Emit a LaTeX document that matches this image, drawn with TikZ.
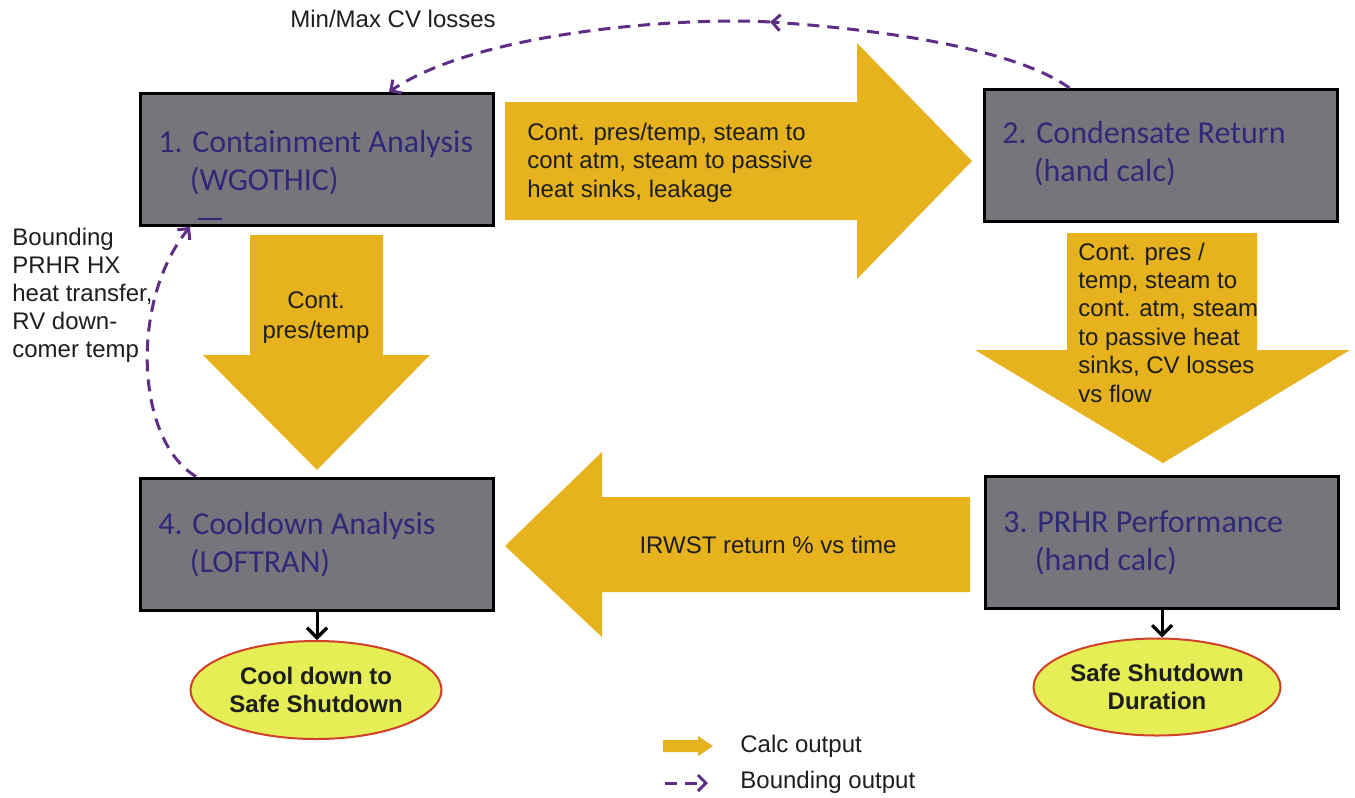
\documentclass[tikz,border=0pt]{standalone}
\usepackage{fontspec}
\setmainfont{Liberation Sans}
\newfontfamily\calib{Carlito}
\usetikzlibrary{arrows.meta,calc,shapes.geometric}
\definecolor{boxgray}{HTML}{78747B}
\definecolor{boxtxt}{HTML}{2E2A78}
\definecolor{gold}{HTML}{E6B21E}
\definecolor{purp}{HTML}{5E2D86}
\definecolor{ellfill}{HTML}{E6EE55}
\definecolor{ellline}{HTML}{D0402A}
\definecolor{ink}{HTML}{1E1E1E}
\tikzset{
 box/.style={draw=black, line width=1.5pt, fill=boxgray, minimum width=176.5pt, minimum height=66pt, inner sep=0pt},
 boxtext/.style={font=\calib\fontsize{16}{19}\selectfont, text=boxtxt, align=left, inner sep=0pt, anchor=base west},
 lbl/.style={font=\fontsize{12}{14.2}\selectfont, text=ink, inner sep=0pt},
 calcarrow/.style={fill=gold},
 bound/.style={draw=purp, line width=1.5pt, dash pattern=on 6pt off 4pt, -{Straight Barb[length=4pt,width=8pt,line width=1.5pt]}},
 goal/.style={ellipse, draw=ellline, line width=1pt, fill=ellfill, inner sep=0pt, text=ink, font=\bfseries\fontsize{12}{14}\selectfont, align=center},
 outarrow/.style={draw=black, line width=1.5pt, -{Straight Barb[length=5pt,width=10pt,line width=1.6pt]}},
}
\begin{document}
\begin{tikzpicture}[x=0.5pt,y=-0.5pt]
\useasboundingbox[fill=white] (0,0) rectangle (1355,798);

% calc-output arrows
\fill[calcarrow] (505,102) -- (857,102) -- (857,43) -- (972,161) -- (857,279) -- (857,220) -- (505,220) -- cycle;
\fill[calcarrow] (250,235) -- (383,235) -- (383,355) -- (430,355) -- (317,470) -- (203,355) -- (250,355) -- cycle;
\fill[calcarrow] (1067,233) -- (1257,233) -- (1257,350) -- (1350,350) -- (1163,463) -- (975,350) -- (1067,350) -- cycle;
\fill[calcarrow] (970,497) -- (602,497) -- (602,452) -- (505,546) -- (602,637) -- (602,592) -- (970,592) -- cycle;

% boxes
\node[box] (b1) at (317,159.5) {};
\node[box] (b2) at (1160.5,155.5) {};
\node[box] (b3) at (1162,542.5) {};
\node[box] (b4) at (317,544) {};

% (multi-line nodes: base anchor = baseline of last line)
\node[boxtext] (b1t) at (158,190) {1. Containment Analysis\\\hphantom{1.\ }(WGOTHIC)};
\node[boxtext] (b2t) at (1002,181) {2. Condensate Return\\\hphantom{2.\ }(hand calc)};
\node[boxtext] (b3t) at (1003,570) {3. PRHR Performance\\\hphantom{3.\ }(hand calc)};
\node[boxtext] (b4t) at (158,572) {4. Cooldown Analysis\\\hphantom{4.\ }(LOFTRAN)};
\draw[boxtxt, line width=1pt] (198,219) -- (222,219);

% arrow texts
\node[lbl, align=left, anchor=base west] (a12) at (527,197) {Cont. pres/temp, steam to\\cont atm, steam to passive\\heat sinks, leakage};
\node[lbl, align=center, anchor=base, font=\fontsize{12}{15}\selectfont] (a14) at (316,338) {Cont.\\pres/temp};
\node[lbl, align=left, anchor=base west] (a23) at (1078,402) {Cont. pres /\\temp, steam to\\cont. atm, steam\\to passive heat\\sinks, CV losses\\vs flow};
\node[lbl, anchor=base] (a34) at (768,553) {IRWST return \% vs time};

% goals
\node[goal, minimum width=125.5pt, minimum height=49pt] (e1) at (316,690) {Cool down to\\Safe Shutdown};
\node[goal, minimum width=123.5pt, minimum height=48.5pt] (e2) at (1157,687) {Safe Shutdown\\Duration};
\draw[outarrow] (b4.south) -- (b4.south |- e1.north);
\draw[outarrow] (b3.south) -- (b3.south |- e2.north);

% bounding outputs
\coordinate (t1) at ($(b2.north west)+(87,0)$);
\coordinate (tm) at (770,22);
\coordinate (t2) at ($(b1.north west)+(250,0)$);
\draw[bound] (t1) .. controls (1010,45) and (860,28) .. (tm);
\draw[bound] (tm) .. controls (690,17) and (480,30) .. (t2);
\node[lbl, anchor=base west] (mm) at (290,27) {Min/Max CV losses};

\coordinate (l1) at ($(b4.north west)+(57,0)$);
\coordinate (l2) at ($(b1.south west)+(51,0)$);
\draw[bound] (l1) .. controls (135,440) and (130,300) .. (l2);
\node[lbl, align=left, anchor=base west, font=\fontsize{12}{14}\selectfont] (bl) at (12,357) {Bounding\\PRHR HX\\heat transfer,\\RV down-\\comer temp};

% legend
\fill[calcarrow] (663,740) -- (698,740) -- (698,736) -- (713,746) -- (698,756) -- (698,752) -- (663,752) -- cycle;
\node[lbl, anchor=base west] (lg1) at (740,752) {Calc output};
\coordinate (g1) at (665,783);
\coordinate (g2) at (708,783);
\draw[bound] (g1) -- (g2);
\node[lbl, anchor=base west] (lg2) at (740,788) {Bounding output};
\end{tikzpicture}
\end{document}
